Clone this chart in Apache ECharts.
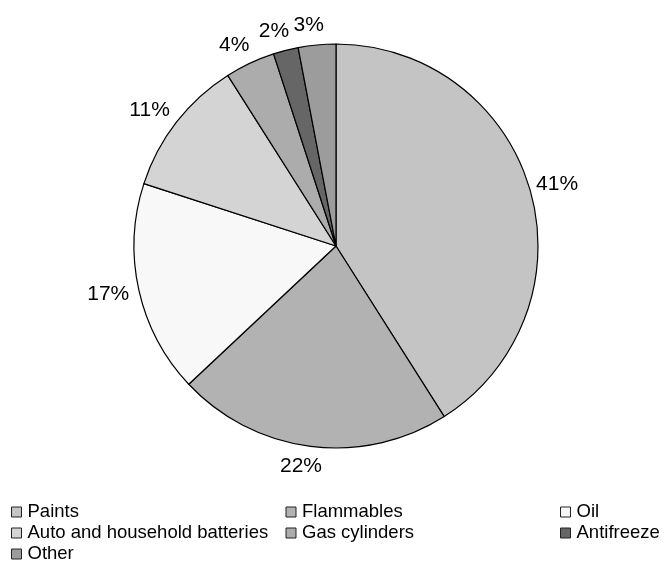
<!DOCTYPE html>
<html>
<head>
<meta charset="utf-8">
<script src="https://cdn.jsdelivr.net/npm/echarts@6/dist/echarts.min.js"></script>
<style>
  html, body { margin: 0; padding: 0; background: #fff; }
  #chart { width: 665px; height: 561px; }
</style>
</head>
<body>
<div id="chart"></div>
<script>
// Share of collected household hazardous waste by type (%)
const categories = ['Paints', 'Flammables', 'Oil', 'Auto and household batteries', 'Gas cylinders', 'Antifreeze', 'Other'];
const shares = [41, 22, 17, 11, 4, 2, 3];
const colors = ['#c4c4c4', '#b2b2b2', '#f8f8f8', '#d4d4d4', '#acacac', '#666666', '#9c9c9c'];

// Legend rows, three entries per row
const legendRows = [
  ['Paints', 'Flammables', 'Oil'],
  ['Auto and household batteries', 'Gas cylinders', 'Antifreeze'],
  ['Other']
];

const CX = 336, CY = 246, R = 202, LABEL_GAP = 9;
const COL_TEXT_WIDTH = 258;
const total = shares.reduce((a, b) => a + b, 0);

// Mid angle of each slice, measured clockwise from 12 o'clock
const midAngles = [];
let acc = 0;
shares.forEach(v => {
  midAngles.push((acc + v / 2) / total * Math.PI * 2);
  acc += v;
});

const chart = echarts.init(document.getElementById('chart'));

const fontFamily = 'Liberation Sans, Arial, sans-serif';

const legends = legendRows.map((row, i) => ({
  orient: 'horizontal',
  left: 11,
  top: 502 + i * 21,
  width: 654,
  padding: 0,
  // fixed text width on the first two columns keeps entries aligned
  data: row.map((name, j) => j < 2
    ? { name, textStyle: { width: COL_TEXT_WIDTH, overflow: 'none' } }
    : { name }),
  itemWidth: 10,
  itemHeight: 10,
  itemGap: 0,
  icon: 'rect',
  selectedMode: false,
  textStyle: { fontFamily, fontSize: 18.5, color: '#000', lineHeight: 20, padding: [0, 0, 0, 1] },
  itemStyle: { borderColor: '#222', borderWidth: 1 }
}));

chart.setOption({
  animation: false,
  backgroundColor: '#fff',
  legend: legends,
  series: [{
    type: 'pie',
    center: [CX, CY],
    radius: R,
    startAngle: 90,
    clockwise: true,
    avoidLabelOverlap: false,
    data: categories.map((name, i) => ({
      name,
      value: shares[i],
      itemStyle: { color: colors[i] }
    })),
    itemStyle: { borderColor: '#000', borderWidth: 1.2 },
    emphasis: { disabled: true },
    label: {
      show: true,
      position: 'outside',
      formatter: p => p.value + '%',
      fontFamily,
      fontSize: 21,
      color: '#000'
    },
    labelLine: { show: false },
    labelLayout: params => {
      const a = midAngles[params.dataIndex];
      const dx = Math.sin(a), dy = -Math.cos(a);
      const w = params.labelRect.width, h = params.labelRect.height;
      return {
        x: CX + dx * (R + LABEL_GAP + w / 2) - 6 * Math.abs(dy),
        y: CY + dy * (R + LABEL_GAP + h / 2),
        align: 'center',
        verticalAlign: 'middle'
      };
    }
  }]
});
</script>
</body>
</html>
